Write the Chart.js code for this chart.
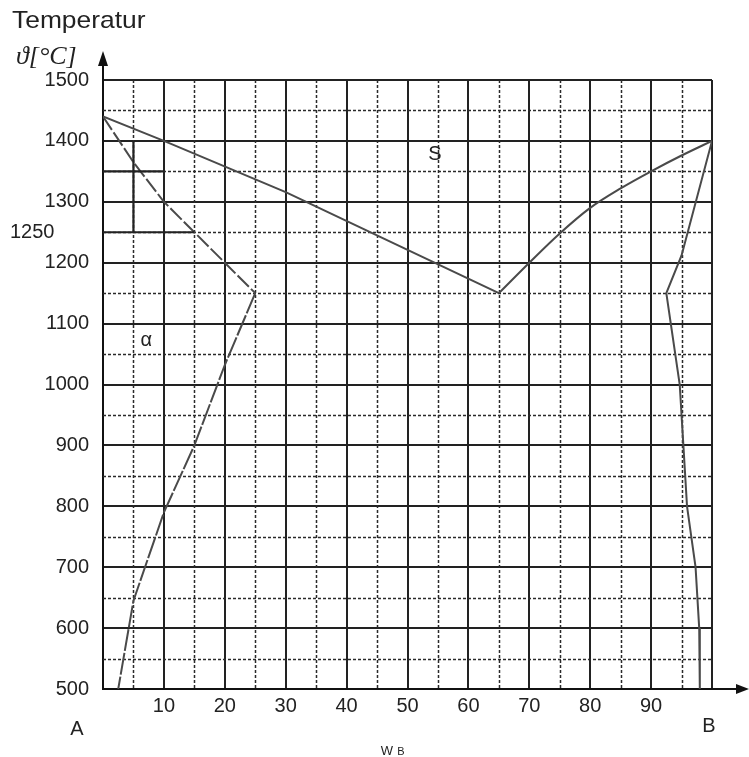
<!DOCTYPE html>
<html>
<head>
<meta charset="utf-8">
<script src="https://cdn.jsdelivr.net/npm/chart.js@4.4.1/dist/chart.umd.min.js"></script>
<style>
  body { margin: 0; background: #fff; }
  canvas { display: block; }
</style>
</head>
<body>
<canvas id="myChart" width="749" height="757" style="width:749px;height:757px"></canvas>
<script>
// werte
const xLabels = [10, 20, 30, 40, 50, 60, 70, 80, 90];
const yLabels = [500, 600, 700, 800, 900, 1000, 1100, 1200, 1300, 1400, 1500];
const extraYLabel = 1250;

// liquidus links (A -> eutektikum) und rechts (eutektikum -> B)
const liquidusLeft = [[0, 1440], [10, 1400], [30, 1316], [65, 1150]];
const liquidusRight = [[65, 1150], [70, 1200], [75, 1248], [80, 1290], [85, 1322], [90, 1350], [95, 1376], [100, 1400]];
// solidus + loeslichkeit alpha
const solidusAlpha = [[0, 1440], [5, 1365], [10, 1300], [15, 1250], [20, 1200], [25, 1150]];
const solvusAlpha = [[25, 1150], [20, 1032], [15, 900], [10, 790], [5, 645], [2.5, 500]];
// solidus + loeslichkeit beta
const solidusBeta = [[100, 1400], [95, 1212], [92.5, 1150]];
const solvusBeta = [[92.5, 1150], [94.7, 1000], [95.3, 900], [95.9, 800], [97.3, 700], [97.9, 600], [98, 500]];
// hilfslinien (hebelgesetz)
const helpLines = [
    [[0, 1350], [10, 1350]],
    [[0, 1250], [15, 1250]],
    [[5, 1400], [5, 1250]]
];
const fieldLabels = [['S', 54.5, 1378], ['α', 7.1, 1073]];

const FONT = "'Liberation Sans', Arial, sans-serif";

function pts(arr) { return arr.map(p => ({ x: p[0], y: p[1] })); }

function lineSet(arr, color, width, dash, smooth) {
    return {
        data: pts(arr),
        borderColor: color,
        borderWidth: width,
        borderDash: dash || [],
        pointRadius: 0,
        fill: false,
        tension: smooth ? 0.4 : 0,
        cubicInterpolationMode: smooth ? 'monotone' : 'default'
    };
}

// gepunktete zwischenlinien + texte + pfeile
const extras = {
    id: 'extras',
    beforeDatasetsDraw(chart) {
        const { ctx, chartArea: a, scales: { x, y } } = chart;
        ctx.save();
        ctx.strokeStyle = '#2a2a2a';
        ctx.lineWidth = 1.5;
        ctx.setLineDash([3, 2]);
        for (let v = 5; v < 100; v += 10) {
            const px = Math.round(x.getPixelForValue(v)) + 0.5;
            ctx.beginPath(); ctx.moveTo(px, a.top); ctx.lineTo(px, a.bottom); ctx.stroke();
        }
        for (let v = 550; v < 1500; v += 100) {
            const py = Math.round(y.getPixelForValue(v)) + 0.5;
            ctx.beginPath(); ctx.moveTo(a.left, py); ctx.lineTo(a.right, py); ctx.stroke();
        }
        ctx.restore();
    },
    afterDraw(chart) {
        const { ctx, chartArea: a, scales: { x, y } } = chart;
        ctx.save();
        ctx.fillStyle = '#111';
        ctx.strokeStyle = '#111';
        ctx.lineWidth = 2;
        // y pfeil
        ctx.beginPath(); ctx.moveTo(a.left, a.top); ctx.lineTo(a.left, 62); ctx.stroke();
        ctx.beginPath(); ctx.moveTo(a.left, 51); ctx.lineTo(a.left - 5, 66); ctx.lineTo(a.left + 5, 66); ctx.closePath(); ctx.fill();
        // x pfeil
        ctx.beginPath(); ctx.moveTo(a.right, a.bottom); ctx.lineTo(742, a.bottom); ctx.stroke();
        ctx.beginPath(); ctx.moveTo(749, a.bottom); ctx.lineTo(736, a.bottom - 5); ctx.lineTo(736, a.bottom + 5); ctx.closePath(); ctx.fill();

        ctx.fillStyle = '#222';
        ctx.textBaseline = 'middle';
        ctx.textAlign = 'left';
        ctx.font = '20px ' + FONT;
        ctx.fillText(String(extraYLabel), 10, y.getPixelForValue(extraYLabel));

        ctx.textAlign = 'center';
        fieldLabels.forEach(l => {
            ctx.fillText(l[0], x.getPixelForValue(l[1]), y.getPixelForValue(l[2]));
        });

        ctx.textAlign = 'left';
        ctx.textBaseline = 'alphabetic';
        ctx.font = '24px ' + FONT;
        ctx.save();
        ctx.translate(12, 28);
        ctx.scale(1.1, 1);
        ctx.fillText('Temperatur', 0, 0);
        ctx.restore();
        ctx.font = "italic 26px 'Liberation Serif', 'DejaVu Serif', serif";
        ctx.fillText('ϑ[°C]', 16, 64);

        ctx.font = '20px ' + FONT;
        ctx.textAlign = 'center';
        ctx.fillText('A', 77, 735);
        ctx.fillText('B', 709, 732);
        ctx.font = '13px ' + FONT;
        ctx.fillText('W', 387, 755);
        ctx.font = '11px ' + FONT;
        ctx.fillText('B', 401, 755);
        ctx.restore();
    }
};

const lineColor = '#4a4a4a';

new Chart(document.getElementById('myChart'), {
    type: 'line',
    data: {
        datasets: [
            ...helpLines.map(h => lineSet(h, '#222', 2.2)),
            lineSet(liquidusLeft, lineColor, 2),
            lineSet(liquidusRight, lineColor, 2, null, true),
            lineSet(solidusAlpha, lineColor, 2, [16, 3]),
            lineSet(solvusAlpha, lineColor, 2, [22, 2]),
            lineSet(solidusBeta, lineColor, 2),
            lineSet(solvusBeta, lineColor, 2)
        ]
    },
    options: {
        responsive: false,
        animation: false,
        layout: { padding: { top: 80, right: 37, left: 0, bottom: 0 } },
        plugins: { legend: { display: false }, tooltip: { enabled: false } },
        scales: {
            x: {
                type: 'linear', min: 0, max: 100,
                afterFit: s => { s.height = 68; },
                ticks: {
                    stepSize: 10, padding: 5, color: '#222', autoSkip: false, maxRotation: 0,
                    font: { size: 20, family: FONT },
                    callback: v => xLabels.includes(v) ? String(v) : ''
                },
                grid: { color: '#222', lineWidth: 2, drawTicks: false },
                border: { color: '#111', width: 2 }
            },
            y: {
                type: 'linear', min: 500, max: 1500,
                afterFit: s => { s.width = 103; },
                ticks: {
                    stepSize: 100, padding: 14, color: '#222',
                    font: { size: 20, family: FONT },
                    callback: v => yLabels.includes(v) ? String(v) : ''
                },
                grid: { color: '#222', lineWidth: 2, drawTicks: false },
                border: { color: '#111', width: 2 }
            }
        }
    },
    plugins: [extras]
});
</script>
</body>
</html>
